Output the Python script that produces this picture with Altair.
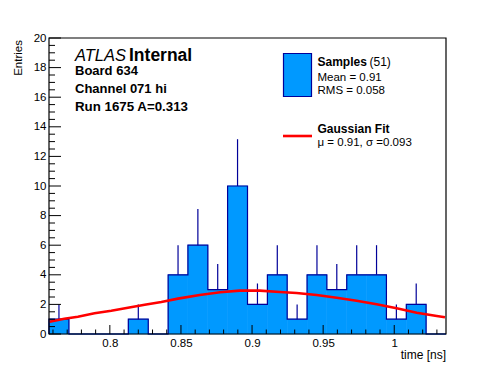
import altair as alt
import pandas as pd

# ---------------- data ----------------
BIN_EDGES = [0.7572, 0.7712, 0.7851, 0.7991, 0.8130, 0.8270, 0.8410, 0.8549, 0.8689, 0.8828,
             0.8968, 0.9108, 0.9247, 0.9387, 0.9526, 0.9666, 0.9806, 0.9945, 1.0085, 1.0224, 1.0364]
COUNTS = [1, 0, 0, 0, 1, 0, 4, 6, 3, 10, 2, 4, 1, 4, 3, 4, 4, 1, 2, 0]

FIT_X = [0.7576, 0.7680, 0.7775, 0.7892, 0.8010, 0.8127, 0.8245, 0.8362, 0.8479, 0.8632,
         0.8775, 0.8913, 0.9054, 0.9195, 0.9313, 0.9454, 0.9595, 0.9735, 0.9876, 1.0017,
         1.0158, 1.0299, 1.0357]
FIT_Y = [0.83, 1.03, 1.17, 1.40, 1.57, 1.78, 1.98, 2.16, 2.39, 2.64,
         2.82, 2.93, 2.93, 2.84, 2.77, 2.64, 2.45, 2.25, 2.01, 1.74,
         1.44, 1.22, 1.13]

X_DOMAIN = [0.7572, 1.0364]
Y_DOMAIN = [0, 20]
X_MAJOR = [0.8, 0.85, 0.9, 0.95, 1.0]
X_MINOR = [0.76, 0.77, 0.78, 0.79, 0.81, 0.82, 0.83, 0.84, 0.86, 0.87, 0.88, 0.89,
           0.91, 0.92, 0.93, 0.94, 0.96, 0.97, 0.98, 0.99, 1.01, 1.02, 1.03]
Y_MAJOR = [0, 2, 4, 6, 8, 10, 12, 14, 16, 18, 20]
Y_MINOR = [i * 0.5 for i in range(41) if i % 4]

TXT_ATLAS = "ATLAS"
TXT_INTERNAL = "Internal"
TXT_INFO = ["Board 634", "Channel 071 hi", "Run 1675 A=0.313"]
TXT_SAMPLES = "Samples"
TXT_N = "(51)"
TXT_MEAN = "Mean = 0.91"
TXT_RMS = "RMS = 0.058"
TXT_FIT = "Gaussian Fit"
TXT_FITPAR = "\u03bc = 0.91, \u03c3 =0.093"
TXT_XTITLE = "time [ns]"
TXT_YTITLE = "Entries"

# ---------------- styling ----------------
W, H = 397, 296
FONT = "Liberation Sans"
FILL = "#0099ff"
LINE = "#000099"

xs = alt.Scale(domain=X_DOMAIN, nice=False, zero=False)
ys = alt.Scale(domain=Y_DOMAIN, nice=False, zero=False)

hist = pd.DataFrame({
    "lo": BIN_EDGES[:-1],
    "hi": BIN_EDGES[1:],
    "count": COUNTS,
})
hist["mid"] = (hist["lo"] + hist["hi"]) / 2

pts = [(BIN_EDGES[0], 0)]
for i, c in enumerate(COUNTS):
    pts.append((BIN_EDGES[i], c))
    pts.append((BIN_EDGES[i + 1], c))
pts.append((BIN_EDGES[-1], 0))
outline = pd.DataFrame({"x": [p[0] for p in pts], "y": [p[1] for p in pts], "o": range(len(pts))})

fit = pd.DataFrame({"x": FIT_X, "y": FIT_Y})

XA = alt.Axis(values=X_MAJOR, format="~g", ticks=False, tickSize=0, domain=False, grid=False,
              labelFont=FONT, labelFontSize=11.5, labelColor="black", labelPadding=3, title=None)
YA = alt.Axis(values=Y_MAJOR, format="d", ticks=False, tickSize=0, domain=False, grid=False,
              labelFont=FONT, labelFontSize=11.5, labelColor="black", labelPadding=3, title=None,
              labelOverlap=False)

bars = alt.Chart(hist).mark_rect(color=FILL, stroke=FILL, strokeWidth=0.6).encode(
    x=alt.X("lo:Q", scale=xs, axis=XA),
    x2="hi:Q",
    y=alt.Y("count:Q", scale=ys, axis=YA),
    y2=alt.datum(0),
)

step = alt.Chart(outline).mark_line(color=LINE, strokeWidth=1.2).encode(
    x=alt.X("x:Q", scale=xs, axis=XA), y=alt.Y("y:Q", scale=ys, axis=YA), order="o:Q")

errs = alt.Chart(hist).transform_filter("datum.count > 0").transform_calculate(
    top="datum.count + sqrt(datum.count)"
).mark_rule(color=LINE, strokeWidth=1.2).encode(
    x=alt.X("mid:Q", scale=xs, axis=XA), y=alt.Y("count:Q", scale=ys, axis=YA), y2="top:Q")

fitline = alt.Chart(fit).mark_line(color="#ff0000", strokeWidth=2.6).encode(
    x=alt.X("x:Q", scale=xs, axis=XA), y=alt.Y("y:Q", scale=ys, axis=YA))


def xticks(vals, length):
    return alt.Chart(pd.DataFrame({"v": vals})).mark_rule(color="black", strokeWidth=1).encode(
        x=alt.X("v:Q", scale=xs, axis=XA), y=alt.value(H), y2=alt.value(H - length))


def yticks(vals, length):
    return alt.Chart(pd.DataFrame({"v": vals})).mark_rule(color="black", strokeWidth=1).encode(
        y=alt.Y("v:Q", scale=ys, axis=YA), x=alt.value(0), x2=alt.value(length))


frame = alt.Chart(pd.DataFrame({"a": [0]})).mark_rect(
    fill=None, stroke="black", strokeWidth=1.2
).encode(x=alt.value(0), x2=alt.value(W), y=alt.value(0), y2=alt.value(H))


def label(text, x, y, size, weight="normal", style="normal", align="left", angle=0,
          baseline="alphabetic"):
    return alt.Chart(pd.DataFrame({"t": [text]})).mark_text(
        font=FONT, fontSize=size, fontWeight=weight, fontStyle=style, align=align,
        angle=angle, baseline=baseline, color="black"
    ).encode(x=alt.value(x), y=alt.value(y), text="t:N")


legend_box = alt.Chart(pd.DataFrame({"a": [0]})).mark_rect(
    fill=FILL, stroke=LINE, strokeWidth=1.2
).encode(x=alt.value(234.5), x2=alt.value(262.5), y=alt.value(15.5), y2=alt.value(58.5))

legend_line = alt.Chart(pd.DataFrame({"a": [0]})).mark_rule(
    color="#ff0000", strokeWidth=2.6
).encode(x=alt.value(234), x2=alt.value(263), y=alt.value(98), y2=alt.value(98))

texts = [
    label(TXT_ATLAS, 26, 22.5, 16.5, style="italic"),
    label(TXT_INTERNAL, 80, 22.5, 17.5, weight="bold"),
    label(TXT_INFO[0], 26, 37, 13, weight="bold"),
    label(TXT_INFO[1], 26, 54.7, 13, weight="bold"),
    label(TXT_INFO[2], 26, 72.7, 13.3, weight="bold"),
    label(TXT_SAMPLES, 268.5, 28, 12, weight="bold"),
    label(TXT_N, 320.5, 28, 12),
    label(TXT_MEAN, 268.5, 42.5, 11.5),
    label(TXT_RMS, 268.5, 56.3, 11.5),
    label(TXT_FIT, 268.5, 95, 12, weight="bold"),
    label(TXT_FITPAR, 268.5, 107.5, 11.5),
    label(TXT_XTITLE, W, 321, 12, align="right"),
    label(TXT_YTITLE, -30, 2, 11.5, align="right", angle=270, baseline="middle"),
]

chart = alt.layer(
    bars, step, errs, fitline,
    xticks(X_MAJOR, 9), xticks(X_MINOR, 4.5),
    yticks(Y_MAJOR, 12), yticks(Y_MINOR, 6),
    frame, legend_box, legend_line, *texts
).properties(
    width=W, height=H,
    padding={"left": 41, "top": 30, "right": 42, "bottom": 30},
    autosize=alt.AutoSizeParams(type="none"),
).configure_view(stroke=None)

chart.save("out.html", embed_options={"renderer": "svg", "actions": False})
